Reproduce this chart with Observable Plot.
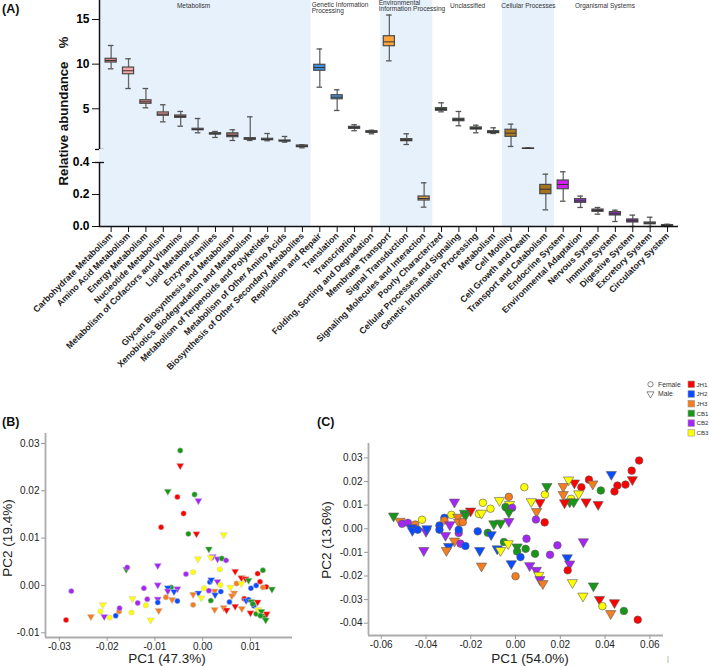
<!DOCTYPE html>
<html><head><meta charset="utf-8">
<script src="https://cdn.jsdelivr.net/npm/d3@7"></script>
<script src="https://cdn.jsdelivr.net/npm/@observablehq/plot@0.6"></script>
<style>
body{margin:0;background:#fff;}
#root{position:relative;width:709px;height:666px;overflow:hidden;background:#fff;font-family:"Liberation Sans",Arial,sans-serif;}
#root svg{position:absolute;}
.pa g[aria-label="y-axis tick label"]{font-size:12px;font-weight:bold;}
.pa g[aria-label="x-axis tick label"]{font-size:8.8px;font-weight:bold;}
.pb g[aria-label="x-axis tick label"], .pb g[aria-label="y-axis tick label"]{font-size:10px;}
</style></head><body><div id="root"></div>
<script>
// ---------------- DATA ----------------
const categories = ["Carbohydrate Metabolism","Amino Acid Metabolism","Energy Metabolism","Nucleotide Metabolism","Metabolism of Cofactors and Vitamins","Lipid Metabolism","Enzyme Families","Glycan Biosynthesis and Metabolism","Xenobiotics Biodegradation and Metabolism","Metabolism of Terpenoids and Polyketides","Metabolism of Other Amino Acids","Biosynthesis of Other Secondary Metabolites","Replication and Repair","Translation","Transcription","Folding, Sorting and Degradation","Membrane Transport","Signal Transduction","Signaling Molecules and Interaction","Poorly Characterized","Cellular Processes and Signaling","Genetic Information Processing","Metabolism","Cell Motility","Cell Growth and Death","Transport and Catabolism","Endocrine System","Environmental Adaptation","Nervous System","Immune System","Digestive System","Excretory System","Circulatory System"];
const groupNames = ["Metabolism","Genetic Information\nProcessing","Environmental\nInformation Processing","Unclassified","Cellular Processes","Organismal Systems"];
const groupSizes = [12,4,3,4,3,7];
const whiskerHigh = [12.09,10.6,7.27,5.45,4.7,3.91,2.46,2.65,4.1,2.23,1.9,0.97, 11.7,7.13,3.21,2.6, 15.5,2.2,0.273, 5.67,4.7,3.16,2.87, 3.28,0.63,0.327, 0.342,0.19,0.119,0.102,0.071,0.058,0.014];
const q3 = [10.6,9.62,5.96,4.59,4.25,2.76,2.27,2.25,1.71,1.64,1.45,0.89, 9.93,6.52,2.98,2.49, 13.13,1.6,0.1875, 5.07,3.88,2.91,2.49, 2.65,0.56,0.26, 0.2875,0.171,0.106,0.09,0.044,0.025,0.009];
const median = [10.41,9.26,5.78,4.4,4.14,2.68,2.2,2.01,1.64,1.56,1.4,0.81, 9.62,6.3,2.87,2.42, 12.5,1.48,0.175, 4.92,3.77,2.79,2.38, 2.27,0.53,0.233, 0.2625,0.16,0.1,0.079,0.036,0.021,0.007];
const q1 = [10.18,8.87,5.56,4.22,3.99,2.6,2.12,1.82,1.53,1.48,1.34,0.7, 9.26,6.07,2.76,2.31, 12.01,1.37,0.1625, 4.78,3.61,2.68,2.27, 1.86,0.5,0.202, 0.233,0.148,0.092,0.069,0.025,0.014,0.005];
const whiskerLow = [9.48,7.27,5.11,3.54,3.05,2.31,1.79,1.45,1.45,1.42,1.26,0.63, 7.42,4.81,2.54,2.2, 10.37,1.0,0.121, 4.66,3.1,2.31,2.23, 0.78,0.47,0.104, 0.158,0.119,0.077,0.031,0,0,0];
const upperTicks = [5,10,15];
const lowerTicks = [0,0.2,0.4];

const groupsPts = ["JH1","JH2","JH3","CB1","CB2","CB3"];
const sexes = ["Female","Male"];
// [group, sex, PC1, PC2]
const pointsB = [
["CB1","Female",-0.0047,0.0285],["JH1","Male",-0.0047,0.0253],["CB1","Male",-0.0073,0.0199],["JH1","Female",-0.0053,0.0187],
["CB1","Female",-0.0017,0.0192],["CB2","Male",-0.0009,0.0179],["JH1","Female",-0.0040,0.0152],["JH1","Female",-0.0087,0.0123],
["CB1","Female",-0.0030,0.0109],["JH1","Male",-0.0013,0.0109],["CB3","Male",0.0044,0.0107],["CB1","Male",0.0013,0.0077],
["CB3","Male",-0.0010,0.0056],["CB2","Male",0.0021,0.0061],["CB3","Male",0.0017,0.0059],["CB2","Male",0.0031,0.0056],
["CB1","Female",0.0040,0.0057],["CB2","Female",0.0049,0.0053],["CB2","Male",-0.0094,0.0042],["CB1","Male",-0.0160,0.0034],
["CB2","Female",-0.0158,0.0038],["CB2","Female",-0.0035,0.0024],["CB3","Female",-0.0020,0.0028],["CB3","Female",0.0036,0.0034],
["JH1","Male",0.0068,0.0030],["CB1","Female",0.0126,0.0032],["JH1","Female",0.0115,0.0025],["CB2","Female",-0.0275,-0.0012],
["JH1","Female",-0.0286,-0.0073],["JH3","Male",-0.0234,-0.0066],["CB3","Male",-0.0209,-0.0041],["CB3","Female",-0.0214,-0.0055],
["CB2","Male",-0.0206,-0.0066],["CB3","Female",-0.0195,-0.0068],["JH2","Female",-0.0182,-0.0064],["JH3","Female",-0.0175,-0.0055],
["CB2","Female",-0.0174,-0.0048],["CB3","Female",-0.0149,-0.0057],["CB3","Male",-0.0147,-0.0028],["CB2","Female",-0.0136,-0.0037],
["CB2","Female",-0.0123,-0.0006],["CB2","Female",-0.0116,-0.0029],["CB3","Female",-0.0119,-0.0042],["CB3","Male",-0.0109,-0.0073],
["CB2","Male",-0.0094,0.0001],["CB2","Male",-0.0094,-0.0029],["JH2","Female",-0.0094,-0.0036],["JH3","Male",-0.0092,-0.0053],
["CB1","Female",-0.0066,-0.0004],["JH2","Male",-0.0073,-0.0005],["CB2","Male",-0.0073,-0.0012],["CB2","Male",-0.0053,-0.0007],
["JH2","Male",-0.0060,-0.0013],["JH3","Female",-0.0077,-0.0025],["JH3","Male",-0.0064,-0.0030],["JH2","Female",-0.0053,-0.0033],
["JH2","Male",-0.0009,-0.0016],["JH3","Male",-0.0020,-0.0019],["JH3","Female",-0.0020,-0.0041],["CB3","Male",-0.0003,-0.0026],
["CB3","Female",0.0003,-0.0006],["JH2","Female",0.0015,0.0007],["JH2","Male",0.0018,0.0012],["JH3","Male",0.0025,-0.0012],
["JH2","Male",0.0026,-0.0020],["CB2","Male",0.0031,0.0008],["CB3","Female",0.0037,0.0001],["JH2","Female",0.0038,-0.0013],
["CB2","Female",0.0013,-0.0011],["CB1","Female",0.0017,-0.0032],["JH3","Male",0.0025,-0.0051],["CB3","Male",0.0058,-0.0004],
["JH3","Male",0.0066,-0.0016],["JH3","Male",0.0061,-0.0022],["JH2","Female",0.0056,-0.0035],["JH3","Male",0.0044,-0.0047],
["JH1","Male",0.0050,-0.0052],["JH1","Male",0.0068,-0.0044],["JH3","Female",0.0071,0.0004],["CB3","Male",0.0083,0.0016],
["JH1","Male",0.0081,0.0016],["JH1","Male",0.0090,0.0014],["CB1","Male",0.0096,0.0011],["CB3","Male",0.0081,0.0004],
["JH1","Female",0.0087,-0.0028],["JH2","Male",0.0091,-0.0032],["JH2","Female",0.0096,-0.0030],["CB1","Male",0.0102,-0.0034],
["JH2","Female",0.0101,-0.0006],["JH2","Female",0.0112,0.0000],["JH1","Female",0.0120,0.0008],["JH1","Female",0.0133,-0.0003],
["JH3","Female",0.0126,-0.0004],["CB1","Male",0.0145,-0.0008],["JH2","Female",0.0107,-0.0043],["JH1","Male",0.0115,-0.0035],
["JH3","Male",0.0082,-0.0049],["JH1","Male",0.0100,-0.0058],["CB1","Female",0.0105,-0.0039],["CB1","Female",0.0112,-0.0060],
["CB3","Male",0.0116,-0.0051],["CB1","Male",0.0123,-0.0055],["CB1","Male",0.0126,-0.0064],["CB1","Male",0.0130,-0.0068],
["CB1","Male",0.0132,-0.0073],["JH1","Male",0.0134,-0.0060],["CB1","Female",0.0121,-0.0064]
];
const pointsC = [
["JH1","Female",0.0552,0.0289],["JH1","Female",0.0519,0.0246],["JH1","Male",0.0522,0.0208],["JH2","Male",0.0428,0.0230],
["JH1","Female",0.0491,0.0187],["JH1","Female",0.0455,0.0183],["JH1","Female",0.0442,0.0158],["JH1","Female",0.0328,0.0208],
["JH3","Male",0.0345,0.0190],["JH1","Female",0.0294,0.0176],["CB1","Female",0.0381,0.0162],["JH1","Male",0.0369,0.0103],
["JH1","Male",0.0315,0.0114],["CB3","Male",0.0282,0.0148],["JH1","Male",0.0263,0.0194],["CB3","Male",0.0237,0.0207],
["JH3","Male",0.0213,0.0179],["JH3","Male",0.0213,0.0145],["CB3","Female",0.0248,0.0127],["CB1","Male",0.0242,0.0114],
["CB1","Male",0.0260,0.0114],["JH1","Male",0.0219,0.0110],["JH1","Male",0.0109,0.0111],["CB3","Male",0.0070,0.0115],
["CB3","Female",0.0131,0.0145],["CB1","Male",0.0140,0.0179],["JH3","Male",0.0094,0.0073],["CB2","Female",0.0091,0.0039],
["JH1","Female",0.0130,0.0027],["CB3","Female",0.0039,0.0176],["JH3","Female",-0.0030,0.0135],["CB3","Male",-0.0072,0.0120],
["CB3","Male",-0.0027,0.0103],["CB1","Female",-0.0045,0.0092],["CB2","Female",-0.0015,0.0089],["CB1","Male",-0.0030,0.0070],
["CB3","Female",-0.0146,0.0110],["CB3","Female",-0.0112,0.0085],["CB3","Female",-0.0164,0.0063],["CB3","Male",-0.0152,0.0066],
["CB1","Male",-0.0097,0.0021],["CB1","Male",-0.0067,0.0024],["CB2","Male",-0.0030,0.0031],["CB1","Female",-0.0124,-0.0017],
["JH2","Female",-0.0169,-0.0011],["JH2","Male",-0.0109,-0.0025],["JH1","Male",-0.0201,0.0075],["CB1","Male",-0.0228,0.0066],
["CB1","Male",-0.0224,0.0056],["CB2","Male",-0.0273,0.0113],["CB3","Female",-0.0287,0.0059],["JH2","Female",-0.0318,0.0046],
["JH3","Female",-0.0318,0.0035],["JH3","Male",-0.0258,0.0049],["JH3","Male",-0.0254,0.0028],["JH3","Female",-0.0236,0.0028],
["CB2","Male",-0.0294,0.0017],["JH2","Female",-0.0340,0.0014],["JH2","Female",-0.0340,-0.0004],["CB2","Male",-0.0313,-0.0028],
["CB2","Female",-0.0254,-0.0018],["JH2","Female",-0.0254,-0.0004],["JH3","Male",-0.0273,-0.0052],["CB2","Female",-0.0246,-0.0063],
["JH2","Female",-0.0224,-0.0073],["JH2","Male",-0.0299,-0.0075],["JH3","Male",-0.0309,-0.0092],["CB3","Female",-0.0418,0.0038],
["CB1","Male",-0.0545,0.0054],["JH3","Male",-0.0516,0.0032],["CB2","Female",-0.0507,0.0021],["CB2","Female",-0.0481,0.0025],
["JH3","Female",-0.0448,0.0018],["JH2","Male",-0.0463,0.0004],["JH2","Male",-0.0461,-0.0007],["JH2","Female",-0.0437,-0.0004],
["CB2","Male",-0.0400,-0.0011],["JH2","Male",-0.0396,0.0000],["CB2","Male",-0.0410,-0.0092],["JH2","Male",-0.0160,-0.0092],
["JH3","Male",-0.0152,-0.0158],["JH2","Male",-0.0082,-0.0085],["CB3","Male",-0.0067,-0.0092],["CB1","Female",-0.0052,-0.0056],
["CB3","Male",-0.0033,-0.0063],["CB1","Male",0.0007,-0.0077],["CB1","Female",0.0007,-0.0096],["JH2","Female",0.0022,-0.0120],
["CB1","Female",0.0045,-0.0085],["CB2","Female",0.0049,-0.0042],["CB1","Female",0.0087,-0.0106],["JH2","Male",-0.0019,-0.0148],
["JH3","Female",0.0000,-0.0201],["CB2","Male",0.0063,-0.0156],["CB2","Male",0.0093,-0.0176],["CB3","Male",0.0104,-0.0197],
["CB2","Male",0.0109,-0.0215],["JH3","Male",0.0122,-0.0232],["CB2","Female",0.0154,-0.0110],["CB2","Female",0.0187,-0.0070],
["CB2","Male",0.0303,-0.0055],["JH2","Male",0.0231,-0.0123],["CB2","Male",0.0242,-0.0149],["JH1","Female",0.0233,-0.0176],
["CB3","Male",0.0254,-0.0228],["CB1","Male",0.0348,-0.0242],["CB3","Male",0.0301,-0.0285],["JH1","Male",0.0375,-0.0299],
["CB3","Female",0.0388,-0.0328],["JH1","Male",0.0442,-0.0313],["JH3","Male",0.0425,-0.0359],["CB1","Female",0.0484,-0.0348],
["JH1","Female",0.0546,-0.0385]
];
const ticksBx = [-0.03,-0.02,-0.01,0,0.01], ticksBy = [-0.01,0,0.01,0.02,0.03];
const ticksCx = [-0.06,-0.04,-0.02,0,0.02,0.04,0.06], ticksCy = [-0.04,-0.03,-0.02,-0.01,0,0.01,0.02,0.03];

// ---------------- STYLE ----------------
const FONT = '"Liberation Sans", Arial, sans-serif';
const boxFill = ["#e0898b","#f6a8a8","#d98686","#ee9c9c","#b86d6d","#c98a8a","#c99a9a","#a06868","#b08080","#b89090","#a08080","#805858",
 "#3f8fe3","#4f97dd","#405870","#506070",
 "#ffa33d","#4a4a3a","#d49b55",
 "#2f4a30","#2f4a30","#2f4a30","#2f4a30",
 "#b07c22","#706050","#a6731f",
 "#d21ff6","#9933cc","#5a3a5a","#8e2fb0","#7b2b9c","#666","#888"];
const groupColors = ["#ff0000","#0a4cff","#f47d20","#179717","#a426f5","#ffff00"];
const shade = "#e6f1fc";
const W = 709;
const xDom = [-0.67, 32.63];
const root = d3.select("#root");

const idx = d3.range(categories.length);
let acc = 0;
const spans = groupSizes.map((n, k) => { const s = acc; acc += n; return {k, x1: k === 0 ? xDom[0] : s - 0.5, x2: s + n - 0.5}; });
const shaded = spans.filter(s => s.k % 2 === 0);
const isLower = i => q3[i] < 0.4;
const upperIdx = idx.filter(i => !isLower(i)), lowerIdx = idx.filter(isLower);

function boxMarks(ids) {
  return [
    Plot.ruleX(ids, {x: i => i, y1: i => whiskerLow[i], y2: i => whiskerHigh[i], stroke: "#666", strokeWidth: 1.3}),
    Plot.ruleY(ids, {y: i => whiskerHigh[i], x1: i => i - 0.16, x2: i => i + 0.16, stroke: "#555", strokeWidth: 1.3}),
    Plot.ruleY(ids, {y: i => whiskerLow[i], x1: i => i - 0.16, x2: i => i + 0.16, stroke: "#555", strokeWidth: 1.3}),
    Plot.rect(ids, {x1: i => i - 0.32, x2: i => i + 0.32, y1: i => q1[i], y2: i => q3[i], fill: i => boxFill[i], stroke: "#4a4a4a", strokeWidth: 1.2}),
    Plot.ruleY(ids, {y: i => median[i], x1: i => i - 0.32, x2: i => i + 0.32, stroke: "#333", strokeWidth: 1})
  ];
}
const headerLayout = [
  {x: 4.74, anchor: "middle", dy: 3}, {x: 11.53, anchor: "start", dy: 1.5}, {x: 15.39, anchor: "start", dy: -0.5},
  {x: 20.5, anchor: "middle", dy: 3}, {x: 24.0, anchor: "middle", dy: 3}, {x: 28.4, anchor: "middle", dy: 3}
];
const headerMarks = groupNames.map((g, k) => Plot.text([g], {
  x: () => headerLayout[k].x, text: d => d, frameAnchor: "top", lineAnchor: "top", dy: headerLayout[k].dy,
  textAnchor: headerLayout[k].anchor, fontSize: 6.5, fill: "#333", lineHeight: 1
}));

const a1 = Plot.plot({
  width: W, height: 149, marginTop: 0, marginBottom: 0, marginLeft: 99, marginRight: 31,
  className: "pa",
  x: {domain: xDom, axis: null}, y: {domain: [0.44, 17.13], axis: null}, color: {type: "identity"},
  style: {fontFamily: FONT, background: "transparent", overflow: "visible"},
  marks: [
    Plot.rect(shaded, {x1: "x1", x2: "x2", fill: shade}),
    ...headerMarks,
    ...boxMarks(upperIdx),
    Plot.ruleX([xDom[0]], {stroke: "#111", strokeWidth: 1.5}),
    Plot.ruleY([0.44], {x1: -0.9, x2: -0.38, stroke: "#111", strokeWidth: 1.3}),
    Plot.axisY(upperTicks, {tickSize: 7, tickPadding: 3, fontSize: 12, fontWeight: "bold", label: null, stroke: "#111"})
  ]
});
d3.select(a1).style("left", "0px").style("top", "0px");
root.node().appendChild(a1);

const a2 = Plot.plot({
  width: W, height: 227, marginTop: 0, marginBottom: 150, marginLeft: 99, marginRight: 31,
  className: "pa",
  x: {domain: xDom, axis: null}, y: {domain: [0, 0.48125], axis: null}, color: {type: "identity"},
  style: {fontFamily: FONT, background: "transparent", overflow: "visible"},
  marks: [
    Plot.rect(shaded, {x1: "x1", x2: "x2", fill: shade}),
    ...boxMarks(lowerIdx),
    Plot.ruleX([xDom[0]], {y1: 0, y2: 0.4, stroke: "#111", strokeWidth: 1.5}),
    Plot.ruleY([0.4], {x1: -0.9, x2: -0.38, stroke: "#111", strokeWidth: 1.3}),
    Plot.ruleY([0], {stroke: "#111", strokeWidth: 1.5}),
    Plot.axisY(lowerTicks, {tickFormat: d => d.toFixed(1), tickSize: 7, tickPadding: 3, fontSize: 12, fontWeight: "bold", label: null, stroke: "#111"}),
    Plot.axisX(idx, {tickFormat: i => categories[i], tickRotate: -45, tickSize: 6, tickPadding: 2, fontSize: 8.8, fontWeight: "bold", label: null, stroke: "#111", fill: "#222"})
  ]
});
d3.select(a2).style("left", "0px").style("top", "149px");
root.node().appendChild(a2);

// down-pointing triangle symbol
const triDown = {draw(ctx, size) {
  const s3 = Math.sqrt(3), y = Math.sqrt(size / (s3 * 3));
  ctx.moveTo(0, 2 * y); ctx.lineTo(-s3 * y, -y); ctx.lineTo(s3 * y, -y); ctx.closePath();
}};

function pcaPlot(points, opts) {
  const p = Plot.plot({
    width: opts.width, height: opts.height, marginLeft: opts.ml, marginRight: opts.mr, marginTop: opts.mt, marginBottom: opts.mb,
    className: "pb",
    x: {domain: opts.xd, axis: null}, y: {domain: opts.yd, axis: null},
    color: {domain: groupsPts, range: groupColors},
    symbol: {domain: sexes, range: [d3.symbolCircle, triDown]},
    style: {fontFamily: FONT, background: "transparent", overflow: "visible"},
    marks: [
      Plot.ruleX([opts.xd[0]], {stroke: "#ababab", strokeWidth: 1.8}),
      Plot.ruleY([opts.yd[0]], {stroke: "#ababab", strokeWidth: 1.8}),
      Plot.axisX(opts.tx, {tickFormat: d => d.toFixed(2), tickSize: 4, tickPadding: 1, stroke: "#999", fill: "#222", fontSize: 10, label: null}),
      Plot.axisY(opts.ty, {tickFormat: d => d.toFixed(2), tickSize: 4, tickPadding: 2, stroke: "#999", fill: "#222", fontSize: 10, label: null}),
      Plot.dot(points, {x: d => d[2], y: d => d[3], fill: d => d[0], symbol: d => d[1], r: opts.r, stroke: opts.stroke, strokeWidth: opts.sw})
    ]
  });
  d3.select(p).style("left", opts.left + "px").style("top", opts.top + "px");
  root.node().appendChild(p);
}
pcaPlot(pointsB, {left: 0, top: 400, width: 300, height: 266, ml: 45, mr: 8, mt: 33, mb: 29,
  xd: [-0.0329, 0.0188], yd: [-0.0110, 0.0321], tx: ticksBx, ty: ticksBy, r: 2.7, stroke: "#c8c8c8", sw: 0.5});
pcaPlot(pointsC, {left: 320, top: 400, width: 389, height: 266, ml: 48, mr: 46, mt: 43, mb: 31,
  xd: [-0.0657, 0.0661], yd: [-0.0452, 0.0361], tx: ticksCx, ty: ticksCy, r: 3.8, stroke: "#5a5a5a", sw: 0.6});

// ---------------- overlay text + legend ----------------
const ov = root.append("svg").attr("width", W).attr("height", 666).style("left", "0px").style("top", "0px")
  .style("font-family", FONT).style("pointer-events", "none");
function txt(x, y, s, o = {}) {
  const t = ov.append("text").attr("x", 0).attr("y", 0).text(s)
    .attr("transform", `translate(${x},${y})` + (o.rot ? ` rotate(${o.rot})` : ""))
    .attr("font-size", o.size || 12).attr("fill", o.fill || "#111")
    .attr("font-weight", o.weight || "normal").attr("text-anchor", o.anchor || "start");
  return t;
}
txt(2, 13, "(A)", {size: 12.5, weight: "bold"});
txt(2, 426, "(B)", {size: 12.5, weight: "bold"});
txt(317, 426, "(C)", {size: 12.5, weight: "bold"});
txt(68, 123.5, "Relative abundance", {size: 13.2, weight: "bold", rot: -90, anchor: "middle"});
txt(68, 42.5, "%", {size: 13, weight: "bold", rot: -90, anchor: "middle"});
txt(11.5, 538, "PC2 (19.4%)", {size: 13.5, rot: -90, anchor: "middle", fill: "#222"});
txt(167, 662.5, "PC1 (47.3%)", {size: 13.5, anchor: "middle", fill: "#222"});
txt(331, 540, "PC2 (13.6%)", {size: 13.5, rot: -90, anchor: "middle", fill: "#222"});
txt(530, 662.5, "PC1 (54.0%)", {size: 13.5, anchor: "middle", fill: "#222"});
txt(668, 661, "|", {size: 7, fill: "#888", anchor: "middle"});

// legend
const sexSym = [d3.symbolCircle, triDown];
sexes.forEach((s, k) => {
  const y = 384.3 + k * 9.6;
  ov.append("path").attr("d", d3.symbol(sexSym[k], 22)()).attr("transform", `translate(650.5,${y})`)
    .attr("fill", "none").attr("stroke", "#555").attr("stroke-width", 0.7);
  txt(658, y + 2.4, s, {size: 6.8, fill: "#333"});
});
groupsPts.forEach((g, k) => {
  const y = 384.3 + k * 9.7;
  ov.append("rect").attr("x", 688).attr("y", y - 3.3).attr("width", 6.6).attr("height", 6.6)
    .attr("fill", groupColors[k]).attr("stroke", "#999").attr("stroke-width", 0.6);
  txt(696.5, y + 2.2, g, {size: 6.2, fill: "#333"});
});
</script></body></html>
